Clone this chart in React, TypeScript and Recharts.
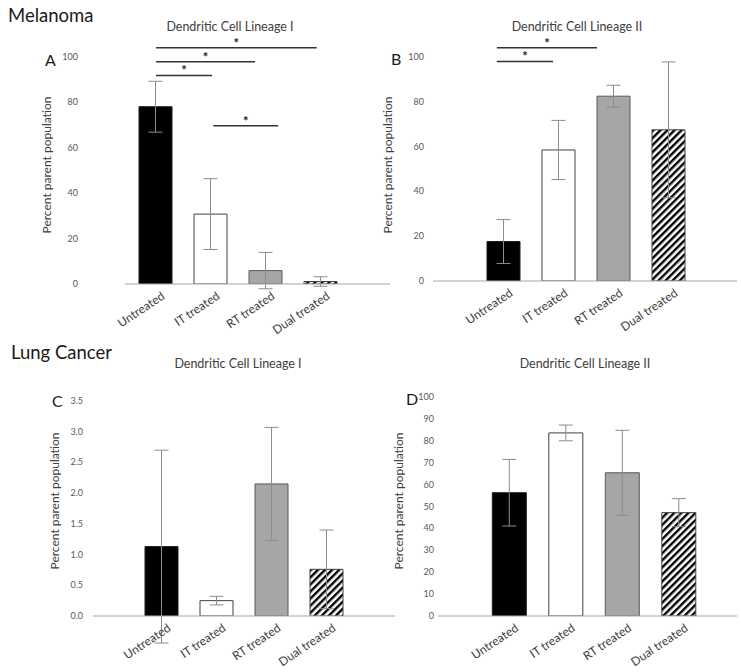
import { BarChart, Bar, XAxis, YAxis, ErrorBar, Cell, ReferenceLine } from "recharts";

const categories = ["Untreated", "IT treated", "RT treated", "Dual treated"];

// A: melanoma, dendritic cell lineage I
const melanomaI = [78.1, 30.8, 5.9, 1.1];
const melanomaIErr = [11.2, 15.6, 8, 2.1];
// B: melanoma, dendritic cell lineage II
const melanomaII = [17.6, 58.5, 82.5, 67.5];
const melanomaIIErr = [9.8, 13.2, 4.9, 30.3];
// C: lung cancer, lineage I
const lungI = [1.13, 0.25, 2.15, 0.76];
const lungIErr = [1.57, 0.07, 0.92, 0.64];
// D: lung cancer, lineage II
const lungII = [56.3, 83.6, 65.4, 47.2];
const lungIIErr = [15.2, 3.6, 19.4, 6.4];

const ticksPct = [0, 20, 40, 60, 80, 100];
const ticksLungI = [0, 0.5, 1, 1.5, 2, 2.5, 3, 3.5];
const ticksLungII = [0, 10, 20, 30, 40, 50, 60, 70, 80, 90, 100];

// significance brackets: from/to in category index units (0 = Untreated centre), y in data units
const sigA = [
  { from: 0.01, to: 2.93, y: 104.1 },
  { from: 0.01, to: 1.81, y: 97.9 },
  { from: 0.01, to: 1.03, y: 91.9 },
  { from: 1.05, to: 2.23, y: 69.7 },
];
const sigB = [
  { from: -0.12, to: 1.7, y: 104.1 },
  { from: -0.12, to: 0.9, y: 98 },
];

const fills = ["#000000", "#ffffff", "#a6a6a6"];
const strokes = ["#1a1a1a", "#404040", "#595959", "#404040"];
const FONT = "Lato, 'Open Sans', sans-serif";

type Box = { x: number; y: number; w: number; h: number };
type Plot = { l: number; t: number; r: number; b: number };
type Sig = { from: number; to: number; y: number };

const YW = 10;
const XH = 50;

function Panel(props: {
  id: string;
  box: Box;
  plot: Plot;
  values: number[];
  errs: number[];
  domain: [number, number];
  ticks: number[];
  fmt: (v: number) => string;
  yOff: number;
  pad: { left: number; right: number };
  sig?: Sig[];
}) {
  const { id, box, plot, values, errs, domain, ticks, fmt, yOff, pad, sig = [] } = props;
  const data = categories.map((name, i) => ({ name, value: values[i], err: errs[i], idx: i }));
  const margin = {
    left: plot.l - box.x - YW,
    top: plot.t - box.y,
    right: box.x + box.w - plot.r,
    bottom: box.y + box.h - plot.b - XH,
  };
  const half = (plot.r - plot.l - pad.left - pad.right) / categories.length / 2;
  const numPad = { left: pad.left + half, right: pad.right + half };
  const yTick = (p: any) => (
    <text x={p.x - yOff} y={p.y} dy={3} textAnchor="end" fontSize={9} fill="#595959">
      {fmt(p.payload.value)}
    </text>
  );
  const xTick = (p: any) => {
    const x = p.x + 10;
    const y = p.y + 14;
    return (
      <text x={x} y={y} transform={`rotate(-34 ${x} ${y})`} textAnchor="end" fontSize={12} fill="#404040">
        {p.payload.value}
      </text>
    );
  };
  return (
    <div style={{ position: "absolute", left: box.x, top: box.y }}>
      <BarChart width={box.w} height={box.h} data={data} margin={margin} barCategoryGap="20%">
        <defs>
          <pattern id={`hatch-${id}`} patternUnits="userSpaceOnUse" width={5} height={5} patternTransform="rotate(45)">
            <rect x={0} y={0} width={5} height={5} fill="#ffffff" />
            <rect x={0} y={0} width={2.4} height={5} fill="#000000" />
          </pattern>
        </defs>
        <XAxis
          dataKey="name"
          interval={0}
          padding={pad}
          height={XH}
          tickLine={false}
          tickSize={0}
          tickMargin={0}
          axisLine={{ stroke: "#a6a6a6" }}
          tick={xTick}
        />
        <XAxis xAxisId="n" dataKey="idx" type="number" domain={[0, 3]} allowDataOverflow hide padding={numPad} />
        <YAxis
          width={YW}
          domain={domain}
          ticks={ticks}
          interval={0}
          allowDataOverflow
          axisLine={false}
          tickLine={false}
          tickSize={0}
          tickMargin={0}
          tick={yTick}
        />
        <Bar dataKey="value" isAnimationActive={false} strokeWidth={1}>
          {data.map((d, i) => (
            <Cell key={d.name} fill={i === 3 ? `url(#hatch-${id})` : fills[i]} stroke={strokes[i]} />
          ))}
          <ErrorBar dataKey="err" width={7} stroke="#8c8c8c" strokeWidth={1} />
        </Bar>
        {sig.map((s, i) => (
          <ReferenceLine
            key={i}
            xAxisId="n"
            ifOverflow="visible"
            segment={[
              { x: s.from, y: s.y },
              { x: s.to, y: s.y },
            ]}
            stroke="#333333"
            strokeWidth={1.5}
            label={{ value: "*", position: "top", offset: 0, fontSize: 13, fontWeight: 700, fill: "#222222" }}
          />
        ))}
      </BarChart>
    </div>
  );
}

const txt = (x: number, y: number, size: number, color: string, center = false): React.CSSProperties => ({
  position: "absolute",
  left: x,
  top: y,
  fontSize: size,
  color,
  lineHeight: 1,
  whiteSpace: "nowrap",
  transform: center ? "translate(-50%, -50%)" : undefined,
});

const yLabel = (x: number, y: number): React.CSSProperties => ({
  position: "absolute",
  left: x,
  top: y,
  fontSize: 12,
  color: "#404040",
  lineHeight: 1,
  whiteSpace: "nowrap",
  transform: "translate(-50%, -50%) rotate(-90deg)",
});

const int = (v: number) => String(v);
const one = (v: number) => v.toFixed(1);

export default function App() {
  return (
    <div
      style={{
        position: "absolute",
        left: 0,
        top: 0,
        width: 741,
        height: 672,
        background: "#ffffff",
        fontFamily: FONT,
        overflow: "hidden",
      }}
    >
      <Panel
        id="a"
        box={{ x: 0, y: 30, w: 400, h: 310 }}
        plot={{ l: 125, t: 57, r: 390, b: 284 }}
        values={melanomaI}
        errs={melanomaIErr}
        domain={[0, 100]}
        ticks={ticksPct}
        fmt={int}
        yOff={47}
        pad={{ left: 3, right: 42 }}
        sig={sigA}
      />
      <Panel
        id="b"
        box={{ x: 370, y: 30, w: 371, h: 310 }}
        plot={{ l: 433, t: 57, r: 737, b: 281 }}
        values={melanomaII}
        errs={melanomaIIErr}
        domain={[0, 100]}
        ticks={ticksPct}
        fmt={int}
        yOff={9}
        pad={{ left: 43, right: 41 }}
        sig={sigB}
      />
      <Panel
        id="c"
        box={{ x: 0, y: 370, w: 400, h: 302 }}
        plot={{ l: 93, t: 401, r: 395, b: 616 }}
        values={lungI}
        errs={lungIErr}
        domain={[0, 3.5]}
        ticks={ticksLungI}
        fmt={one}
        yOff={10}
        pad={{ left: 41, right: 41 }}
      />
      <Panel
        id="d"
        box={{ x: 370, y: 370, w: 371, h: 302 }}
        plot={{ l: 438, t: 397, r: 737, b: 616 }}
        values={lungII}
        errs={lungIIErr}
        domain={[0, 100]}
        ticks={ticksLungII}
        fmt={int}
        yOff={4}
        pad={{ left: 43, right: 30 }}
      />

      <div style={txt(8, 6, 18.5, "#1a1a1a")}>Melanoma</div>
      <div style={txt(11, 343, 18.5, "#1a1a1a")}>Lung Cancer</div>

      <div style={txt(45, 52, 16, "#1a1a1a")}>A</div>
      <div style={txt(391, 51, 16, "#1a1a1a")}>B</div>
      <div style={txt(52, 393, 16, "#1a1a1a")}>C</div>
      <div style={txt(406, 391, 16, "#1a1a1a")}>D</div>

      <div style={txt(230, 27, 12.5, "#404040", true)}>Dendritic Cell Lineage I</div>
      <div style={txt(577, 27, 12.5, "#404040", true)}>Dendritic Cell Lineage II</div>
      <div style={txt(238, 364, 12.5, "#404040", true)}>Dendritic Cell Lineage I</div>
      <div style={txt(585, 364, 12.5, "#404040", true)}>Dendritic Cell Lineage II</div>

      <div style={yLabel(47, 165)}>Percent parent population</div>
      <div style={yLabel(387.5, 165)}>Percent parent population</div>
      <div style={yLabel(55, 501)}>Percent parent population</div>
      <div style={yLabel(399, 501)}>Percent parent population</div>
    </div>
  );
}
